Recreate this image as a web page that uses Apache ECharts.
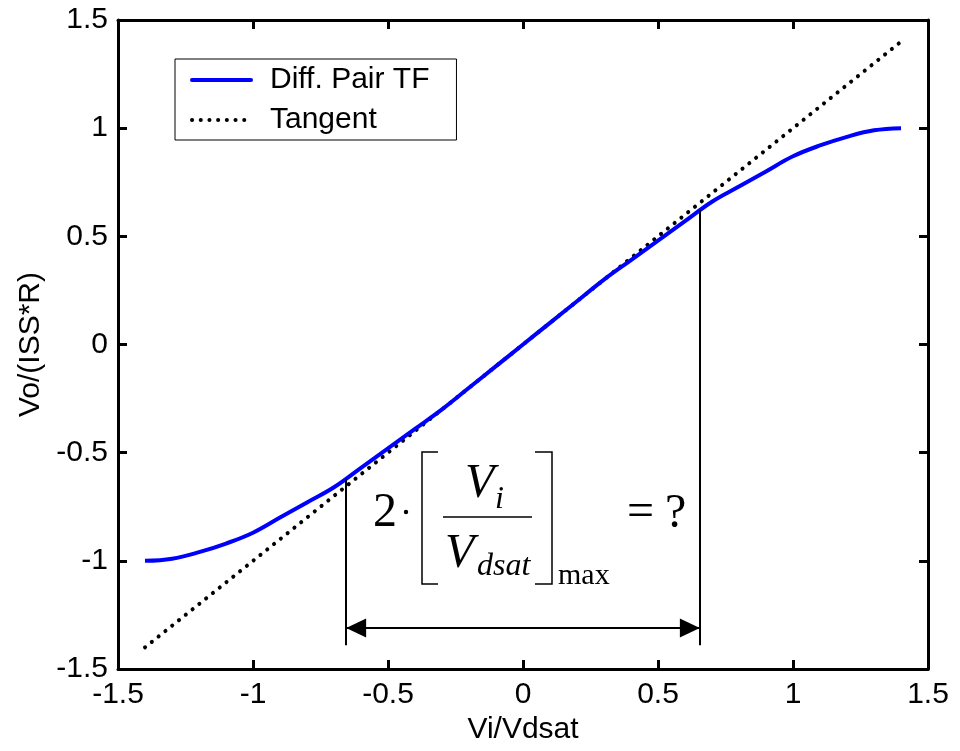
<!DOCTYPE html>
<html>
<head>
<meta charset="utf-8">
<script src="https://cdn.jsdelivr.net/npm/echarts@6/dist/echarts.min.js"></script>
<style>
  html, body { margin: 0; padding: 0; background: #fff; }
  #chart { width: 960px; height: 751px; }
</style>
</head>
<body>
<div id="chart"></div>
<script>
// normalized input Vi/Vdsat
const viVdsat = [-1.4, -1.3, -1.2, -1.1, -1.0, -0.9, -0.8, -0.7, -0.6, -0.5, -0.4, -0.3, -0.2, -0.1,
  0, 0.1, 0.2, 0.3, 0.4, 0.5, 0.6, 0.7, 0.8, 0.9, 1.0, 1.1, 1.2, 1.3, 1.4];
// normalized output Vo/(ISS*R)
const diffPairTF = [-1.00, -0.99, -0.96, -0.92, -0.87, -0.80, -0.73, -0.66, -0.57, -0.48, -0.39, -0.30, -0.20, -0.10,
  0, 0.10, 0.20, 0.30, 0.39, 0.48, 0.57, 0.66, 0.73, 0.80, 0.87, 0.92, 0.96, 0.99, 1.00];
// tangent at the origin (end points)
const tangentX = [-1.4, 1.4];
const tangentY = [-1.4, 1.4];
// annotation: max input range
const rangeX = [-0.655, 0.655];
const rangeTopY = [-0.62, 0.62];
const rangeBottomY = -1.39;
const arrowX = [-0.618, 0.618];   // head centres, tips land on the range lines
const arrowY = -1.31;

const SANS = "'Liberation Sans', Arial, Helvetica, sans-serif";
const SERIF = "'Liberation Serif', 'Times New Roman', serif";

const chart = echarts.init(document.getElementById('chart'));

const axisBase = {
  type: 'value',
  min: -1.5,
  max: 1.5,
  interval: 0.5,
  splitLine: {show: false},
  axisLine: {show: true, onZero: false, lineStyle: {color: '#000', width: 3}},
  axisTick: {show: true, inside: true, length: 9, lineStyle: {color: '#000', width: 3}},
  axisLabel: {show: false}
};

const shownLabel = {
  show: true,
  color: '#000',
  fontFamily: SANS,
  fontSize: 30,
  formatter: v => String(v)
};

const pairData = viVdsat.map((x, i) => [x, diffPairTF[i]]);
const tangentData = tangentX.map((x, i) => [x, tangentY[i]]);

const thin = {color: '#000', width: 2, type: 'solid'};

const option = {
  animation: false,
  backgroundColor: '#fff',
  grid: {left: 118, right: 32, top: 20, bottom: 82},
  legend: {
    left: 175,
    top: 59,
    orient: 'vertical',
    backgroundColor: '#fff',
    borderColor: '#000',
    borderWidth: 1,
    borderRadius: 0,
    padding: [5, 27, 4, 15],
    itemWidth: 59,
    itemHeight: 12,
    itemGap: 8,
    textStyle: {color: '#000', fontFamily: SANS, fontSize: 30, lineHeight: 32, padding: [0, 0, 0, 14]},
    itemStyle: {opacity: 0},
    lineStyle: {width: 'inherit', type: 'inherit', cap: 'round'},
    data: ['Diff. Pair TF', 'Tangent']
  },
  xAxis: [
    Object.assign({}, axisBase, {
      position: 'bottom',
      axisLabel: Object.assign({}, shownLabel, {margin: 11}),
      name: 'Vi/Vdsat',
      nameLocation: 'middle',
      nameGap: 38,
      nameTextStyle: {color: '#000', fontFamily: SANS, fontSize: 30}
    }),
    Object.assign({}, axisBase, {position: 'top'})
  ],
  yAxis: [
    Object.assign({}, axisBase, {
      position: 'left',
      axisLabel: Object.assign({}, shownLabel, {margin: 10}),
      name: 'Vo/(ISS*R)',
      nameLocation: 'middle',
      nameGap: 71,
      nameTextStyle: {color: '#000', fontFamily: SANS, fontSize: 30}
    }),
    Object.assign({}, axisBase, {position: 'right'})
  ],
  series: [
    {
      name: 'Diff. Pair TF',
      type: 'line',
      data: pairData,
      symbol: 'none',
      smooth: 0.4,
      lineStyle: {color: '#0000ff', width: 4},
      itemStyle: {color: '#0000ff'},
      z: 3
    },
    {
      name: 'Tangent',
      type: 'line',
      data: tangentData,
      symbol: 'none',
      lineStyle: {color: '#000', width: 4, type: [0.1, 8.6], cap: 'round'},
      itemStyle: {color: '#000'},
      z: 2,
      markLine: {
        silent: true,
        animation: false,
        label: {show: false},
        emphasis: {disabled: true},
        data: [
          [{coord: [rangeX[0], rangeTopY[0]], symbol: 'none', lineStyle: thin},
           {coord: [rangeX[0], rangeBottomY], symbol: 'none'}],
          [{coord: [rangeX[1], rangeTopY[1]], symbol: 'none', lineStyle: thin},
           {coord: [rangeX[1], rangeBottomY], symbol: 'none'}],
          [{coord: [arrowX[0], arrowY], symbol: 'triangle', symbolSize: [19, 20], lineStyle: thin},
           {coord: [arrowX[1], arrowY], symbol: 'triangle', symbolSize: [19, 20]}],
          [{coord: [rangeX[0], arrowY], symbol: 'none', lineStyle: thin},
           {coord: [rangeX[1], arrowY], symbol: 'none'}]
        ]
      }
    }
  ],
  graphic: [
    // formula: 2·[Vi / Vdsat]max = ?
    {type: 'text', left: 373, top: 513 - 24, style: {text: '2', font: '48px ' + SERIF, fill: '#000'}},
    {type: 'circle', shape: {cx: 406, cy: 512, r: 2.2}, style: {fill: '#000'}},
    {type: 'polyline', shape: {points: [[438, 452], [422, 452], [422, 584], [438, 584]]}, style: {stroke: '#000', lineWidth: 1.5, fill: null}},
    {type: 'polyline', shape: {points: [[535, 452], [552, 452], [552, 584], [535, 584]]}, style: {stroke: '#000', lineWidth: 1.5, fill: null}},
    {type: 'line', shape: {x1: 443, y1: 517, x2: 532, y2: 517}, style: {stroke: '#000', lineWidth: 1.5}},
    {type: 'text', left: 465, top: 484 - 24, style: {text: 'V', font: 'italic 48px ' + SERIF, fill: '#000'}},
    {type: 'text', left: 495, top: 500 - 16, style: {text: 'i', font: 'italic 32px ' + SERIF, fill: '#000'}},
    {type: 'text', left: 445, top: 554 - 24, style: {text: 'V', font: 'italic 48px ' + SERIF, fill: '#000'}},
    {type: 'text', left: 477, top: 567 - 16, style: {text: 'dsat', font: 'italic 32px ' + SERIF, fill: '#000'}},
    {type: 'text', left: 558, top: 576 - 15, style: {text: 'max', font: '30px ' + SERIF, fill: '#000'}},
    {type: 'text', left: 627, top: 513 - 24, style: {text: '=', font: '48px ' + SERIF, fill: '#000'}},
    {type: 'text', left: 665, top: 514 - 24, style: {text: '?', font: '48px ' + SERIF, fill: '#000'}}
  ]
};

chart.setOption(option);
</script>
</body>
</html>
